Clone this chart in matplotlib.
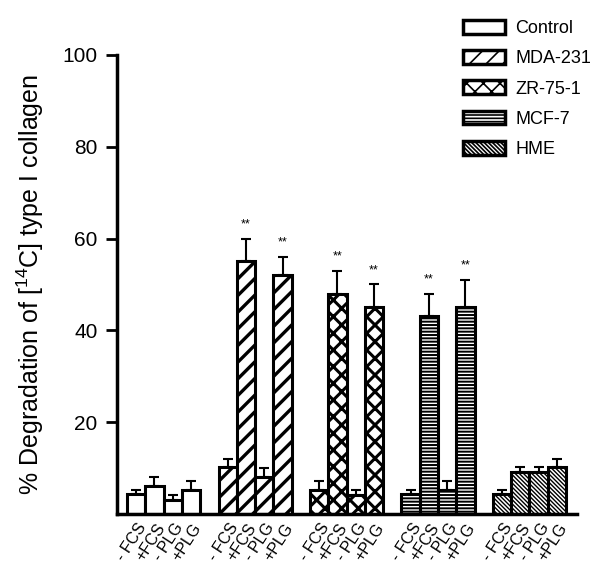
import matplotlib
matplotlib.use("Agg")
import matplotlib.pyplot as plt
from matplotlib.patches import Patch
import matplotlib.transforms as mtransforms
import numpy as np

plt.rcParams['font.family'] = ['Liberation Sans', 'DejaVu Sans']
plt.rcParams['mathtext.fontset'] = 'custom'
plt.rcParams['mathtext.rm'] = 'Liberation Sans'
plt.rcParams['mathtext.it'] = 'Liberation Sans'

groups = ["Control", "MDA-231", "ZR-75-1", "MCF-7", "HME"]
conditions = ["- FCS", "+FCS", "- PLG", "+PLG"]
values = {
    "Control": [4.2, 6.1, 3.0, 5.2],
    "MDA-231": [10.1, 55.0, 8.1, 52.0],
    "ZR-75-1": [5.2, 48.0, 4.1, 45.0],
    "MCF-7":   [4.2, 43.0, 5.2, 45.0],
    "HME":     [4.2, 9.2, 9.2, 10.1],
}
errors = {
    "Control": [0.9, 2.0, 1.0, 1.9],
    "MDA-231": [1.9, 5.0, 1.9, 4.0],
    "ZR-75-1": [1.9, 5.0, 1.0, 5.0],
    "MCF-7":   [1.0, 5.0, 1.9, 6.0],
    "HME":     [1.0, 0.9, 0.9, 1.9],
}
significant = {
    "MDA-231": [False, True, False, True],
    "ZR-75-1": [False, True, False, True],
    "MCF-7":   [False, True, False, True],
}
hatches = {"Control": "", "MDA-231": "//", "ZR-75-1": "xx", "MCF-7": "-----", "HME": "\\\\\\\\\\\\\\\\"}
hatch_lw = {"Control": 1.0, "MDA-231": 2.4, "ZR-75-1": 2.2, "MCF-7": 1.4, "HME": 1.0}

fig = plt.figure(figsize=(6.0, 5.79), dpi=100)
ax = fig.add_axes([117/600, 1-513.75/579, 460/600, (513.75-55)/579])

pitch = 5.0
tick_pos, tick_lab = [], []
legend_handles = []
for g, name in enumerate(groups):
    x = g*pitch + np.arange(4) + 0.5
    plt.rcParams['hatch.linewidth'] = hatch_lw[name]
    bars = ax.bar(x, values[name], width=1.0, color='white', edgecolor='black',
                  linewidth=2.2, hatch=hatches[name], zorder=2)
    for b in bars:
        if hasattr(b, 'set_hatch_linewidth'):
            b.set_hatch_linewidth(hatch_lw[name])
    ax.errorbar(x, values[name], yerr=[np.zeros(4), errors[name]], fmt='none',
                ecolor='black', elinewidth=1.5, capsize=3.6, capthick=1.5, zorder=1)
    if name in significant:
        for xi, v, e, s in zip(x, values[name], errors[name], significant[name]):
            if s:
                ax.text(xi, v + e + 1.8, "**", ha='center', va='bottom', fontsize=9)
    tick_pos.extend(x)
    tick_lab.extend(conditions)
    h = Patch(facecolor='white', edgecolor='black', linewidth=2.5, hatch=hatches[name], label=name)
    if hasattr(h, 'set_hatch_linewidth'):
        h.set_hatch_linewidth(hatch_lw[name])
    legend_handles.append(h)

ax.set_xlim(-0.55, 24.6)
ax.set_ylim(0, 100)
ax.set_yticks([20, 40, 60, 80, 100])
ax.tick_params(axis='y', length=8, width=2, labelsize=15, pad=6)
ax.set_xticks(tick_pos)
ax.set_xticklabels(tick_lab, rotation=57, ha='right', va='center', rotation_mode='anchor', fontsize=11.5)
ax.tick_params(axis='x', length=0, pad=8)
offset = mtransforms.ScaledTranslation(7/100, 0, fig.dpi_scale_trans)
for lab in ax.get_xticklabels():
    lab.set_transform(lab.get_transform() + offset)
for s in ['top', 'right']:
    ax.spines[s].set_visible(False)
for s in ['left', 'bottom']:
    ax.spines[s].set_linewidth(2.5)
ax.set_ylabel("% Degradation of [$^{14}$C] type I collagen", fontsize=18, labelpad=12)

plt.rcParams['hatch.linewidth'] = 1.2
fig.legend(handles=legend_handles, loc='upper left', bbox_to_anchor=(463/600, 1-20/579),
           frameon=False, fontsize=13, handlelength=2.3, handleheight=0.8,
           handletextpad=0.6, labelspacing=0.72, borderpad=0, borderaxespad=0)

fig.savefig("out.png", dpi=100)
